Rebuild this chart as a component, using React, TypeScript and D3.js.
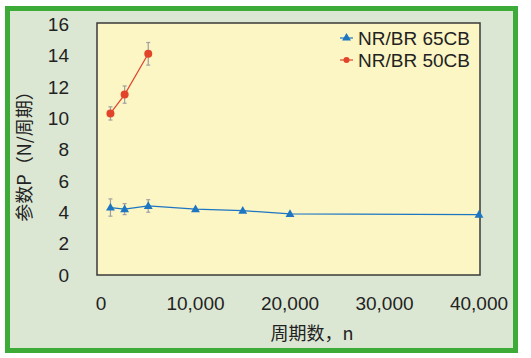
import React from "react";
import * as d3 from "d3";

const xTicks = [0, 10000, 20000, 30000, 40000];
const yTicks = [0, 2, 4, 6, 8, 10, 12, 14, 16];

const blueX = [1000, 2500, 5000, 10000, 15000, 20000, 40000];
const blueY = [4.3, 4.2, 4.4, 4.2, 4.1, 3.9, 3.85];
const blueErr = [0.55, 0.35, 0.4, 0, 0, 0, 0];

const redX = [1000, 2500, 5000];
const redY = [10.3, 11.5, 14.1];
const redErr = [0.42, 0.55, 0.72];

const seriesNames = ["NR/BR 65CB", "NR/BR 50CB"];

const W = 531;
const H = 358;
const plot = { left: 97, right: 480, top: 23, bottom: 275 };
const BLUE = "#1d76c2";
const RED = "#e2432b";
const FONT = "'Liberation Sans', Arial, sans-serif";
const CJK = "'Noto Sans CJK SC', 'Liberation Sans', sans-serif";

export default function App() {
  const x = d3.scaleLinear().domain([0, 40000]).range([101, 479]);
  const y = d3.scaleLinear().domain([0, 16]).range([275, 24]);
  const line = d3
    .line<[number, number]>()
    .x((d) => x(d[0]))
    .y((d) => y(d[1]));
  const blue: [number, number][] = blueX.map((v, i) => [v, blueY[i]]);
  const red: [number, number][] = redX.map((v, i) => [v, redY[i]]);
  const tri = d3.symbol().type(d3.symbolTriangle).size(34);

  const errBar = (cx: number, lo: number, hi: number, key: string) => (
    <g key={key} stroke="#a0a0a0" strokeWidth={1.2}>
      <line x1={cx} x2={cx} y1={y(lo)} y2={y(hi)} />
      <line x1={cx - 2} x2={cx + 2} y1={y(lo)} y2={y(lo)} />
      <line x1={cx - 2} x2={cx + 2} y1={y(hi)} y2={y(hi)} />
    </g>
  );

  return (
    <svg
      width={W}
      height={H}
      style={{ position: "absolute", left: 0, top: 0, background: "#fff" }}
    >
      <rect x={7.5} y={8.5} width={508} height={342} fill="#dce7d3" stroke="#3dab37" strokeWidth={5} />
      <rect
        x={plot.left}
        y={plot.top}
        width={plot.right - plot.left}
        height={plot.bottom - plot.top}
        fill="#fcf5c4"
        stroke="#3a3a3a"
        strokeWidth={1.5}
      />
      {yTicks.map((t) => (
        <text key={t} x={69} y={y(t)} dy="0.36em" textAnchor="end" fontSize={19} fontFamily={FONT} fill="#222">
          {t}
        </text>
      ))}
      {xTicks.map((t) => (
        <text key={t} x={x(t)} y={310} textAnchor="middle" fontSize={19} fontFamily={FONT} fill="#222">
          {d3.format(",")(t)}
        </text>
      ))}
      <text x={312} y={340} textAnchor="middle" fontSize={18} fontFamily={CJK} fill="#222">
        周期数，n
      </text>
      <text
        transform={`translate(31,152) rotate(-90)`}
        textAnchor="middle"
        fontSize={18}
        fontFamily={CJK}
        fill="#222"
      >
        参数P（N/周期）
      </text>

      {blue.map((d, i) =>
        blueErr[i] > 0 ? errBar(x(d[0]), d[1] - blueErr[i], d[1] + blueErr[i], "be" + i) : null
      )}
      {red.map((d, i) => errBar(x(d[0]), d[1] - redErr[i], d[1] + redErr[i], "re" + i))}

      <path d={line(blue) || ""} fill="none" stroke={BLUE} strokeWidth={1.2} />
      <path d={line(red) || ""} fill="none" stroke={RED} strokeWidth={1.2} />
      {blue.map((d, i) => (
        <path key={"bm" + i} d={tri() || ""} transform={`translate(${x(d[0])},${y(d[1]) + 0.5})`} fill={BLUE} />
      ))}
      {red.map((d, i) => (
        <circle key={"rm" + i} cx={x(d[0])} cy={y(d[1])} r={4} fill={RED} />
      ))}

      <g>
        <line x1={340} x2={353} y1={38} y2={38} stroke={BLUE} strokeWidth={1.2} />
        <path d={tri() || ""} transform="translate(346.5,38)" fill={BLUE} />
        <text x={358} y={38} dy="0.36em" fontSize={19} fontFamily={FONT} fill="#222">
          {seriesNames[0]}
        </text>
        <line x1={340} x2={353} y1={60} y2={60} stroke={RED} strokeWidth={1.2} />
        <circle cx={346.5} cy={60} r={3} fill={RED} />
        <text x={358} y={60} dy="0.36em" fontSize={19} fontFamily={FONT} fill="#222">
          {seriesNames[1]}
        </text>
      </g>
    </svg>
  );
}
